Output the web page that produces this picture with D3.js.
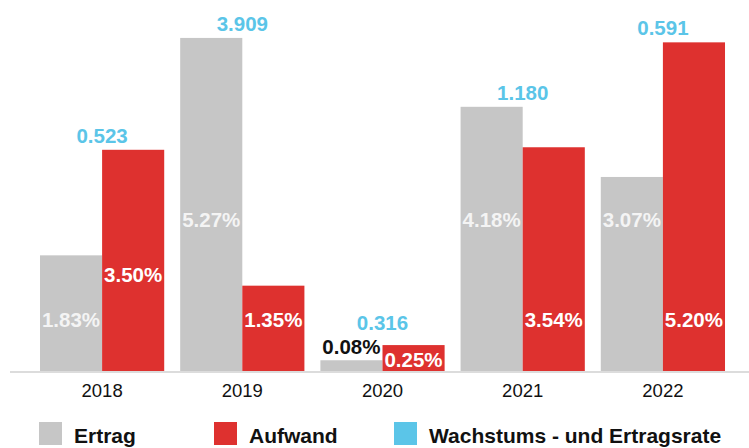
<!DOCTYPE html>
<html>
<head>
<meta charset="utf-8">
<script src="https://cdn.jsdelivr.net/npm/d3@7"></script>
<style>
  html, body { margin: 0; padding: 0; background: #fff; }
  svg { display: block; font-family: 'Liberation Sans', Arial, sans-serif; }
</style>
</head>
<body>
<script>
const years = ['2018', '2019', '2020', '2021', '2022']
const series = ['Ertrag', 'Aufwand']

// bar heights in % (2020 bars are drawn taller than their value in the original)
const ertrag = [1.83, 5.27, 0.17, 4.18, 3.07]
const aufwand = [3.50, 1.35, 0.41, 3.54, 5.20]

const ertragLabels = ['1.83%', '5.27%', '0.08%', '4.18%', '3.07%']
const aufwandLabels = ['3.50%', '1.35%', '0.25%', '3.54%', '5.20%']
const rateLabels = ['0.523', '3.909', '0.316', '1.180', '0.591']

// where the label sits: 'high', 'mid', 'low' inside the bar, 'above' it, or at its 'bottom'
const ertragTier = ['low', 'high', 'above', 'high', 'high']
const aufwandTier = ['mid', 'low', 'bottom', 'low', 'low']

const legendItems = ['Ertrag', 'Aufwand', 'Wachstums - und Ertragsrate']
const colors = { Ertrag: '#c6c6c6', Aufwand: '#de312f', 'Wachstums - und Ertragsrate': '#5bc5e8' }

const width = 749
const height = 448
const baseline = 371

const svg = d3.select('body').append('svg')
  .attr('width', width)
  .attr('height', height)

const x0 = d3.scaleBand()
  .domain(years)
  .range([32, 733])
  .paddingInner(0.114)
  .paddingOuter(0.057)

const x1 = d3.scaleBand()
  .domain(series)
  .range([0, x0.bandwidth()])

const y = d3.scaleLinear()
  .domain([0, 5.87])
  .range([baseline, 0])

const tierY = { high: y(2.28), mid: y(1.41), low: y(0.70) }

const rows = years.map((yr, i) => ({
  year: yr,
  bars: [
    { key: 'Ertrag', value: ertrag[i], label: ertragLabels[i], tier: ertragTier[i] },
    { key: 'Aufwand', value: aufwand[i], label: aufwandLabels[i], tier: aufwandTier[i] }
  ],
  rate: rateLabels[i]
}))

// axis line
svg.append('line')
  .attr('x1', 10)
  .attr('x2', width)
  .attr('y1', baseline + 1)
  .attr('y2', baseline + 1)
  .attr('stroke', '#dcdcdc')
  .attr('stroke-width', 2)

const groups = svg.selectAll('g.year')
  .data(rows)
  .enter()
  .append('g')
  .attr('class', 'year')
  .attr('transform', d => 'translate(' + x0(d.year) + ',0)')

groups.selectAll('rect')
  .data(d => d.bars)
  .enter()
  .append('rect')
  .attr('x', d => x1(d.key))
  .attr('y', d => y(d.value))
  .attr('width', x1.bandwidth())
  .attr('height', d => baseline - y(d.value))
  .attr('fill', d => colors[d.key])

groups.selectAll('text.val')
  .data(d => d.bars)
  .enter()
  .append('text')
  .attr('class', 'val')
  .attr('x', d => x1(d.key) + x1.bandwidth() / 2)
  .attr('y', d => {
    if (d.tier === 'above') return y(d.value) - 6
    if (d.tier === 'bottom') return baseline - 4
    return tierY[d.tier]
  })
  .attr('text-anchor', 'middle')
  .attr('font-size', 20.5)
  .attr('font-weight', 'bold')
  .attr('fill', d => d.tier === 'above' ? '#111' : (d.key === 'Ertrag' ? '#f4f4f4' : '#fff'))
  .text(d => d.label)

groups.append('text')
  .attr('x', x0.bandwidth() / 2)
  .attr('y', d => {
    const top = y(d3.max(d.bars, b => b.value))
    return d.bars[0].tier === 'above' ? y(d.bars[0].value) - 30 : top - 7
  })
  .attr('text-anchor', 'middle')
  .attr('font-size', 20.5)
  .attr('font-weight', 'bold')
  .attr('fill', colors['Wachstums - und Ertragsrate'])
  .text(d => d.rate)

// year labels
svg.append('g')
  .attr('transform', 'translate(0,' + baseline + ')')
  .call(d3.axisBottom(x0).tickSize(0).tickPadding(13))
  .call(g => g.select('.domain').remove())
  .selectAll('text')
  .attr('font-family', "'Liberation Sans', Arial, sans-serif")
  .attr('font-size', 18.5)
  .attr('fill', '#111')

// legend
const legendX = [39, 214, 394]
const legend = svg.selectAll('g.legend')
  .data(legendItems)
  .enter()
  .append('g')
  .attr('class', 'legend')
  .attr('transform', (d, i) => 'translate(' + legendX[i] + ',422)')

legend.append('rect')
  .attr('width', 23)
  .attr('height', 23)
  .attr('fill', d => colors[d])

legend.append('text')
  .attr('x', 35)
  .attr('y', 21)
  .attr('font-size', 21)
  .attr('font-weight', 'bold')
  .attr('fill', '#111')
  .text(d => d)
</script>
</body>
</html>
